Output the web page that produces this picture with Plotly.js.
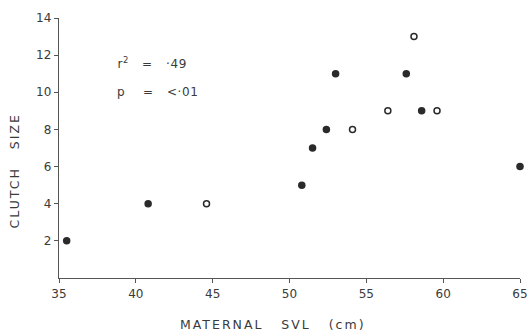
<!DOCTYPE html>
<html>
<head>
<meta charset="utf-8">
<script src="https://cdn.plot.ly/plotly-3.0.1.min.js"></script>
<style>
body{margin:0;background:#fff}
#chart{width:532px;height:336px}
#chart .annotation[data-index="0"] text, #chart .annotation[data-index="1"] text{letter-spacing:0.6px}
#chart .annotation[data-index="2"] text, #chart .annotation[data-index="3"] text{letter-spacing:2px}
</style>
</head>
<body>
<div id="chart"></div>
<script>
// Filled circles
const filledSVL = [35.5, 40.8, 50.8, 51.5, 52.4, 53.0, 57.6, 58.6, 65.0];
const filledClutch = [2, 4, 5, 7, 8, 11, 11, 9, 6];
// Open circles
const openSVL = [44.6, 54.1, 56.4, 58.1, 59.6];
const openClutch = [4, 8, 9, 13, 9];
const xTicks = [35, 40, 45, 50, 55, 60, 65];
const yTicks = [2, 4, 6, 8, 10, 12, 14];
const xTitle = 'MATERNAL\u00a0\u00a0 SVL\u00a0\u00a0 (cm)';
const yTitle = 'CLUTCH\u00a0\u00a0 SIZE';

const fontFam = '"DejaVu Sans", "Liberation Sans", sans-serif';
const ink = '#3a3a3a';

const traces = [
  {x: filledSVL, y: filledClutch, mode: 'markers', type: 'scatter',
   marker: {size: 7.5, color: '#2a2a2a', line: {width: 0}}, showlegend: false, cliponaxis: false},
  {x: openSVL, y: openClutch, mode: 'markers', type: 'scatter',
   marker: {size: 6, color: '#ffffff', line: {width: 1.5, color: '#2a2a2a'}}, showlegend: false, cliponaxis: false}
];

const layout = {
  width: 532, height: 336,
  margin: {l: 59, r: 12, t: 18, b: 58},
  paper_bgcolor: '#ffffff', plot_bgcolor: '#ffffff',
  font: {family: fontFam, color: ink, size: 11},
  xaxis: {
    range: [35, 65], tickvals: xTicks, ticktext: xTicks.map(String),
    showgrid: false, zeroline: false, showline: true, linecolor: '#555', linewidth: 1.2,
    ticks: 'outside', ticklen: 4, tickcolor: '#555', tickwidth: 1,
    tickfont: {size: 12, color: ink}, fixedrange: true
  },
  yaxis: {
    range: [0, 14], tickvals: yTicks, ticktext: yTicks.map(String),
    showgrid: false, zeroline: false, showline: true, linecolor: '#555', linewidth: 1.2,
    ticks: 'outside', ticklen: 4, tickcolor: '#555', tickwidth: 1,
    tickfont: {size: 12, color: ink}, fixedrange: true
  },
  annotations: [
    {xref: 'paper', yref: 'paper', x: 0.13, y: 0.827, xanchor: 'left', yanchor: 'middle', showarrow: false,
     text: 'r<sup>2</sup>\u00a0\u00a0 =\u00a0\u00a0 ·49', font: {size: 12, color: ink}},
    {xref: 'paper', yref: 'paper', x: 0.13, y: 0.715, xanchor: 'left', yanchor: 'middle', showarrow: false,
     text: 'p\u00a0\u00a0\u00a0 =\u00a0\u00a0 <·01', font: {size: 12, color: ink}},
    {xref: 'paper', yref: 'paper', x: 0.464, y: -0.177, xanchor: 'center', yanchor: 'middle', showarrow: false,
     text: xTitle, font: {size: 12.5, color: ink}},
    {xref: 'paper', yref: 'paper', x: -0.0976, y: 0.41, xanchor: 'center', yanchor: 'middle', showarrow: false,
     textangle: -90, text: yTitle, font: {size: 12.5, color: ink}}
  ]
};

Plotly.newPlot('chart', traces, layout, {displayModeBar: false, staticPlot: true});
</script>
</body>
</html>
